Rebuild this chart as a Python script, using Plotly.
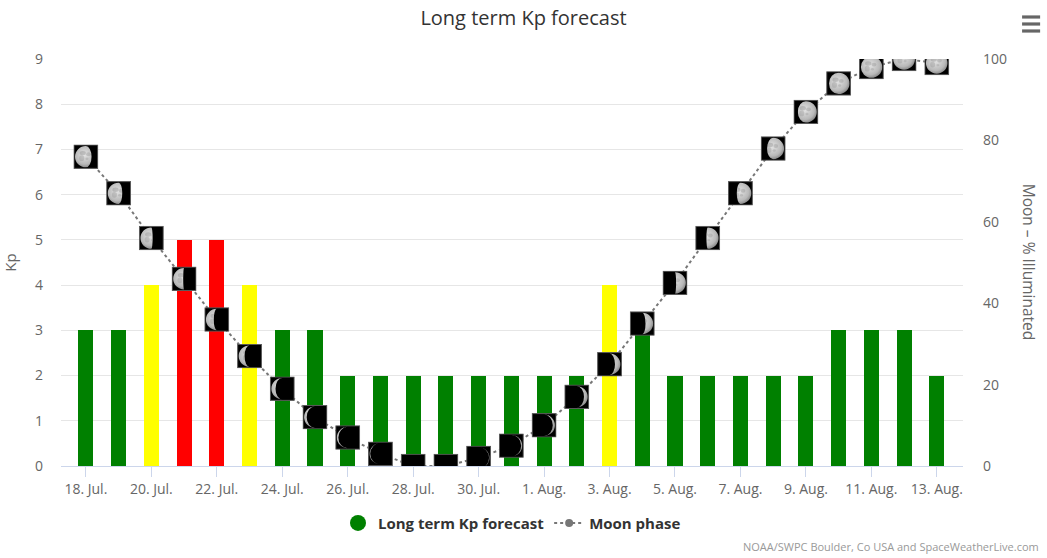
import base64

import plotly.graph_objects as go

dates = [
    "2023-07-18", "2023-07-19", "2023-07-20", "2023-07-21", "2023-07-22",
    "2023-07-23", "2023-07-24", "2023-07-25", "2023-07-26", "2023-07-27",
    "2023-07-28", "2023-07-29", "2023-07-30", "2023-07-31", "2023-08-01",
    "2023-08-02", "2023-08-03", "2023-08-04", "2023-08-05", "2023-08-06",
    "2023-08-07", "2023-08-08", "2023-08-09", "2023-08-10", "2023-08-11",
    "2023-08-12", "2023-08-13",
]
kp = [3, 3, 4, 5, 5, 4, 3, 3, 2, 2, 2, 2, 2, 2, 2, 2, 4, 3, 2, 2, 2, 2, 2, 3, 3, 3, 2]
moon = [76, 67, 56, 46, 36, 27, 19, 12, 7, 3, 0, 0, 2, 5, 10, 17, 25, 35, 45, 56,
        67, 78, 87, 94, 98, 100, 99]

tick_dates = ["2023-07-18", "2023-07-20", "2023-07-22", "2023-07-24", "2023-07-26",
              "2023-07-28", "2023-07-30", "2023-08-01", "2023-08-03", "2023-08-05",
              "2023-08-07", "2023-08-09", "2023-08-11", "2023-08-13"]
tick_text = ["18. Jul.", "20. Jul.", "22. Jul.", "24. Jul.", "26. Jul.", "28. Jul.",
             "30. Jul.", "1. Aug.", "3. Aug.", "5. Aug.", "7. Aug.", "9. Aug.",
             "11. Aug.", "13. Aug."]

DAY = 86400000
FONT = "Open Sans, DejaVu Sans, sans-serif"


def kp_color(v):
    if v >= 5:
        return "#FF0000"
    if v >= 4:
        return "#FFFF00"
    return "#008000"


def moon_svg(pct, waxing):
    # black square with the lit part of the disc, some dark "maria" on it
    c, r = 12, 10.5
    k = pct / 100.0
    if k >= 0.995:
        lit = f'<circle cx="{c}" cy="{c}" r="{r}"/>'
    elif k > 0.005:
        rx = r * abs(1 - 2 * k)
        if waxing:
            limb, sweep = 1, (0 if k < 0.5 else 1)
        else:
            limb, sweep = 0, (1 if k < 0.5 else 0)
        lit = (f'<path d="M {c} {c - r} A {r} {r} 0 0 {limb} {c} {c + r} '
               f'A {rx:.2f} {r} 0 0 {sweep} {c} {c - r} Z"/>')
    else:
        lit = ""
    parts = [
        '<svg xmlns="http://www.w3.org/2000/svg" width="24" height="24" viewBox="0 0 24 24">',
        '<defs><radialGradient id="g" cx="45%" cy="42%" r="60%">'
        '<stop offset="0" stop-color="#e4e4e4"/><stop offset="0.65" stop-color="#b8b8b8"/>'
        '<stop offset="1" stop-color="#707070"/></radialGradient>',
        f'<clipPath id="m">{lit}</clipPath></defs>',
        '<rect x="0.5" y="0.5" width="23" height="23" fill="#000" stroke="#5a5a5a" stroke-width="1"/>',
    ]
    if lit:
        parts.append(
            '<g clip-path="url(#m)">'
            '<rect width="24" height="24" fill="url(#g)"/>'
            '<ellipse cx="9" cy="8.5" rx="3" ry="2.2" fill="#808080" opacity="0.35"/>'
            '<ellipse cx="14.5" cy="9.5" rx="2.3" ry="1.9" fill="#808080" opacity="0.3"/>'
            '<ellipse cx="8" cy="13.5" rx="2.4" ry="2.8" fill="#888888" opacity="0.3"/>'
            '<ellipse cx="13" cy="14" rx="1.5" ry="1.2" fill="#8a8a8a" opacity="0.3"/>'
            '</g>'
        )
    parts.append('</svg>')
    svg = "".join(parts)
    return "data:image/svg+xml;base64," + base64.b64encode(svg.encode()).decode()


fig = go.Figure()

fig.add_trace(go.Bar(
    x=dates, y=kp,
    marker=dict(color=[kp_color(v) for v in kp], line=dict(width=0)),
    width=0.46 * DAY,
    name="Long term Kp forecast",
    showlegend=False,
))
# legend entry with a round symbol, like the original
fig.add_trace(go.Scatter(
    x=[None], y=[None], mode="markers",
    marker=dict(color="#008000", size=16, symbol="circle"),
    name="Long term Kp forecast",
))
fig.add_trace(go.Scatter(
    x=dates, y=moon, yaxis="y2",
    mode="lines+markers",
    line=dict(color="#777777", width=2, dash="dot"),
    marker=dict(color="#777777", size=8),
    name="Moon phase",
))

images = []
for i, (d, m) in enumerate(zip(dates, moon)):
    if i + 1 < len(moon):
        waxing = moon[i + 1] > m
    else:
        waxing = m > moon[i - 1]
    images.append(dict(
        source=moon_svg(m, waxing),
        xref="x", yref="y2", x=d, y=m,
        sizex=0.76 * DAY, sizey=6.0,
        xanchor="center", yanchor="middle",
        sizing="stretch", layer="above",
    ))

# hamburger menu icon (top right)
menu = [dict(type="line", xref="paper", yref="paper",
             x0=1.0655, x1=1.0855, y0=yy, y1=yy,
             line=dict(color="#666666", width=3.2))
        for yy in (1.1032, 1.0860, 1.0688)]

fig.update_layout(
    width=1047, height=558,
    margin=dict(l=61, r=84, t=59, b=92),
    plot_bgcolor="white", paper_bgcolor="white",
    font=dict(family=FONT, color="#666666", size=14),
    title=dict(text="Long term Kp forecast", x=0.5, xanchor="center",
               y=0.967, yanchor="middle",
               font=dict(size=20, color="#333333")),
    bargap=0,
    images=images,
    shapes=menu,
    showlegend=True,
    legend=dict(orientation="h", x=0.5, xanchor="center", y=-0.1, yanchor="top",
                font=dict(size=15, color="#333333", weight="bold"), itemwidth=30),
    annotations=[
        dict(text="Moon – % Illuminated", textangle=90, xref="paper", yref="paper",
             x=1.074, y=0.5, xanchor="center", yanchor="middle", showarrow=False,
             font=dict(size=15.5, color="#666666")),
        dict(text="NOAA/SWPC Boulder, Co USA and SpaceWeatherLive.com", xref="paper",
             yref="paper", x=1.086, y=-0.222, xanchor="right", yanchor="bottom",
             showarrow=False, font=dict(size=11, color="#999999")),
    ],
)

fig.update_xaxes(
    type="date",
    range=["2023-07-17 05:45", "2023-08-13 19:12"],
    tickvals=tick_dates, ticktext=tick_text,
    showline=True, linecolor="#ccd6eb", linewidth=1,
    ticks="outside", ticklen=10, tickcolor="#ccd6eb",
    showgrid=False, zeroline=False, automargin=False,
    tickfont=dict(size=14, color="#666666"),
)
fig.update_yaxes(
    range=[0, 9], dtick=1, tick0=0,
    gridcolor="#e6e6e6", zeroline=False, automargin=False,
    title=dict(text="Kp", font=dict(size=15, color="#666666"), standoff=18),
    tickfont=dict(size=14, color="#666666"),
    ticklabelstandoff=17,
)
fig.update_layout(yaxis2=dict(
    overlaying="y", side="right", range=[0, 100], dtick=20, tick0=0,
    showgrid=False, zeroline=False, automargin=False,
    tickfont=dict(size=14, color="#666666"),
    ticklabelstandoff=19,
))

# the page body has an 8px default margin; drop it so the chart fills the window
fig.write_html("out.html", config={"displayModeBar": False},
               post_script="document.body.style.margin='0';")
